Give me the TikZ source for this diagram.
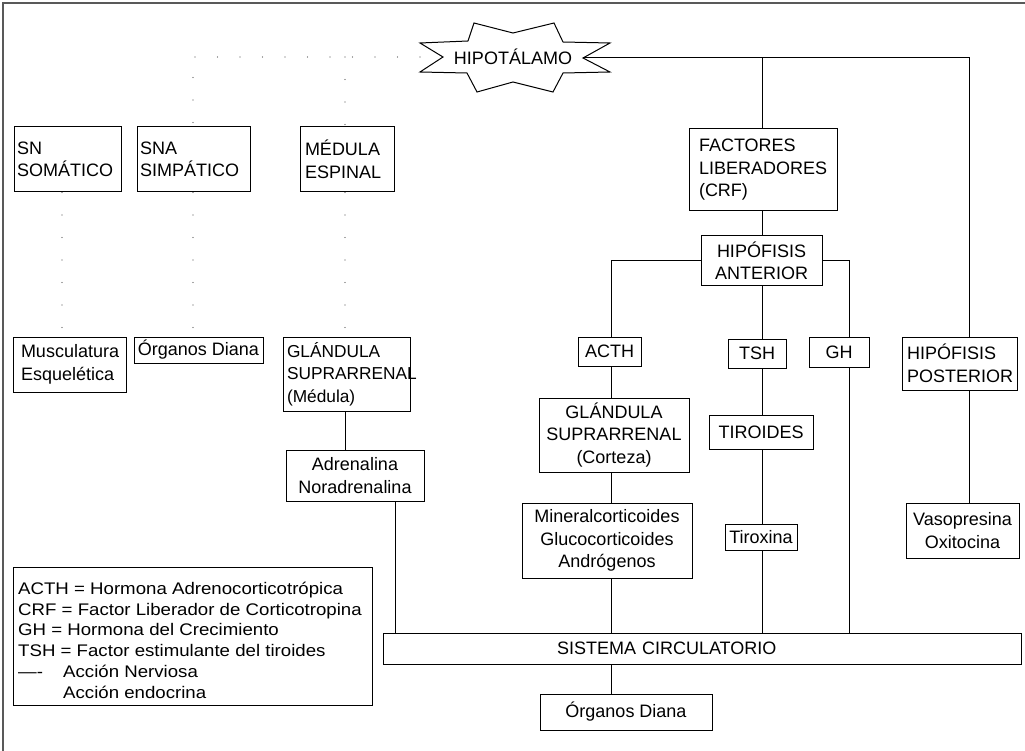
\documentclass[tikz,border=0pt]{standalone}
\usepackage{fontspec}
\setmainfont{Liberation Sans}
\usepackage{graphicx}
\newcommand\fs{\fontsize{18}{22.5}\selectfont}
\newcommand\fss{\fontsize{17.3}{22.5}\selectfont}
\newcommand\lfs{\fontsize{16.8}{20.8}\selectfont}
\newcommand\lgt[1]{\scalebox{1.11}[1]{#1}}
\begin{document}
\begin{tikzpicture}[x=1pt,y=-1pt,
  box/.style={draw,line width=1pt,inner sep=0pt,font=\fs,align=center},
  lbox/.style={box,align=left},
  conn/.style={line width=1pt},
  dots/.style={line width=1.4pt,dash pattern=on 0pt off 22.5pt,line cap=round,black!70},
  lgline/.style={anchor=base west,inner sep=0pt,font=\lfs}]
\useasboundingbox (0,0) rectangle (1025,751);
\draw[black!65,line width=2pt] (3,751) -- (3,3) -- (1025,3);

% star
\draw[line width=1pt] (420,43) -- (468,41) -- (474,23) -- (513,33) -- (554,23) -- (563,42) -- (610,43) -- (583,58) -- (610,72) -- (563,73) -- (553,92) -- (513,82) -- (477,92) -- (467,73) -- (420,72) -- (443,57) -- cycle;
\node[font=\fs,inner sep=0pt] (hipo) at (513,57) {HIPOTÁLAMO};
\coordinate (hr) at (583,58);
\coordinate (hl) at (420,57);

% column coordinates
\coordinate (xA) at (611,0);
\coordinate (xT) at (762,0);
\coordinate (xG) at (849,0);
\coordinate (xP) at (969,0);
\coordinate (xM) at (345,0);
\coordinate (xR) at (395,0);
\coordinate (xS) at (193,0);
\coordinate (xN) at (62,0);

% boxes
\node[lbox,minimum width=107pt,minimum height=65pt,text width=101pt] (snsom) at (67.5,159.5) {SN\\SOMÁTICO};
\node[lbox,minimum width=113pt,minimum height=65pt,text width=107pt] (snasim) at (193.5,159.5) {SNA\\SIMPÁTICO};
\node[lbox,minimum width=94pt,minimum height=65pt,text width=84pt] (medula) at (347,159.5) {MÉDULA\\ESPINAL};
\node[lbox,minimum width=148pt,minimum height=82pt,text width=128pt] (factores) at (763,170) {FACTORES\\LIBERADORES\\(CRF)};
\node[box,minimum width=121pt,minimum height=50pt] (hipant) at (761.5,261) {HIPÓFISIS\\ANTERIOR};
\node[lbox,minimum width=113pt,minimum height=55pt,text width=97pt] (musc) at (69.5,364.5) {Musculatura\\Esquelética};
\node[box,minimum width=129pt,minimum height=26pt] (organosL) at (198.5,350) {Órganos Diana};
\node[lbox,font=\fss,minimum width=127pt,minimum height=74pt,text width=119pt] (glmed) at (346.5,374) {GLÁNDULA\\SUPRARRENAL\\(Médula)};
\node[box,minimum width=138pt,minimum height=51pt] (adren) at (355,475.5) {Adrenalina\\Noradrenalina};
\node[box,minimum width=63pt,minimum height=29pt] (acth) at (609.5,351.5) {ACTH};
\node[box,minimum width=58pt,minimum height=29pt] (tsh) at (757,353.5) {TSH};
\node[box,minimum width=60pt,minimum height=30pt] (gh) at (839,352) {GH};
\node[lbox,minimum width=115pt,minimum height=53pt,text width=105pt] (hippost) at (959.5,363.5) {HIPÓFISIS\\POSTERIOR};
\node[box,minimum width=150pt,minimum height=74pt] (glcor) at (614,435) {GLÁNDULA\\SUPRARRENAL\\(Corteza)};
\node[box,minimum width=104pt,minimum height=34pt] (tiroides) at (761,432) {TIROIDES};
\node[box,minimum width=170pt,minimum height=75pt] (mineral) at (607,540.5) {Mineralcorticoides\\Glucocorticoides\\Andrógenos};
\node[box,minimum width=72pt,minimum height=26pt] (tirox) at (761,537) {Tiroxina};
\node[box,minimum width=113pt,minimum height=55pt] (vaso) at (962.5,530.5) {Vasopresina\\Oxitocina};
\node[box,minimum width=359pt,minimum height=138pt] (legend) at (192.5,636) {};
\node[box,minimum width=638pt,minimum height=31pt,text width=638pt,align=left] (sc) at (702,648.5) {\hspace*{174pt}SISTEMA CIRCULATORIO};
\node[box,minimum width=172pt,minimum height=36pt] (organosB) at (626,712) {Órganos Diana};

% legend text
\node[lgline] (lg1) at (18,594) {\lgt{ACTH = Hormona Adrenocorticotrópica}};
\node[lgline] (lg2) at (18,615) {\lgt{CRF = Factor Liberador de Corticotropina}};
\node[lgline] (lg3) at (18,635) {\lgt{GH = Hormona del Crecimiento}};
\node[lgline] (lg4) at (18,656) {\lgt{TSH = Factor estimulante del tiroides}};
\node[lgline] (lg5a) at (18,677) {\lgt{—-}};
\node[lgline] (lg5) at (63,677) {\lgt{Acción Nerviosa}};
\node[lgline] (lg6) at (63,698) {\lgt{Acción endocrina}};

% solid connectors
\draw[conn] (hr) -- (hr -| xP) -- (hippost.north -| xP);
\draw[conn] (hr -| xT) -- (factores.north -| xT);
\draw[conn] (factores.south -| xT) -- (hipant.north -| xT);
\draw[conn] (hipant.west) -| (acth.north -| xA);
\draw[conn] (hipant.east) -| (gh.north -| xG);
\draw[conn] (hipant.south -| xT) -- (tsh.north -| xT);
\draw[conn] (acth.south -| xA) -- (glcor.north -| xA);
\draw[conn] (glcor.south -| xA) -- (mineral.north -| xA);
\draw[conn] (mineral.south -| xA) -- (sc.north -| xA);
\draw[conn] (tsh.south -| xT) -- (tiroides.north -| xT);
\draw[conn] (tiroides.south -| xT) -- (tirox.north -| xT);
\draw[conn] (tirox.south -| xT) -- (sc.north -| xT);
\draw[conn] (gh.south -| xG) -- (sc.north -| xG);
\draw[conn] (hippost.south -| xP) -- (vaso.north -| xP);
\draw[conn] (glmed.south -| xM) -- (adren.north -| xM);
\draw[conn] (adren.south -| xR) -- (sc.north -| xR);
\draw[conn] (sc.south -| xA) -- (organosB.north -| xA);

% dotted connectors
\draw[dots] (hl) -- (hl -| xS) -- (snasim.north -| xS);
\draw[dots] (hl -| xM) -- (medula.north -| xM);
\draw[dots] (snsom.south -| xN) -- (musc.north -| xN);
\draw[dots] (snasim.south -| xS) -- (organosL.north -| xS);
\draw[dots] (medula.south -| xM) -- (glmed.north -| xM);
\end{tikzpicture}
\end{document}
